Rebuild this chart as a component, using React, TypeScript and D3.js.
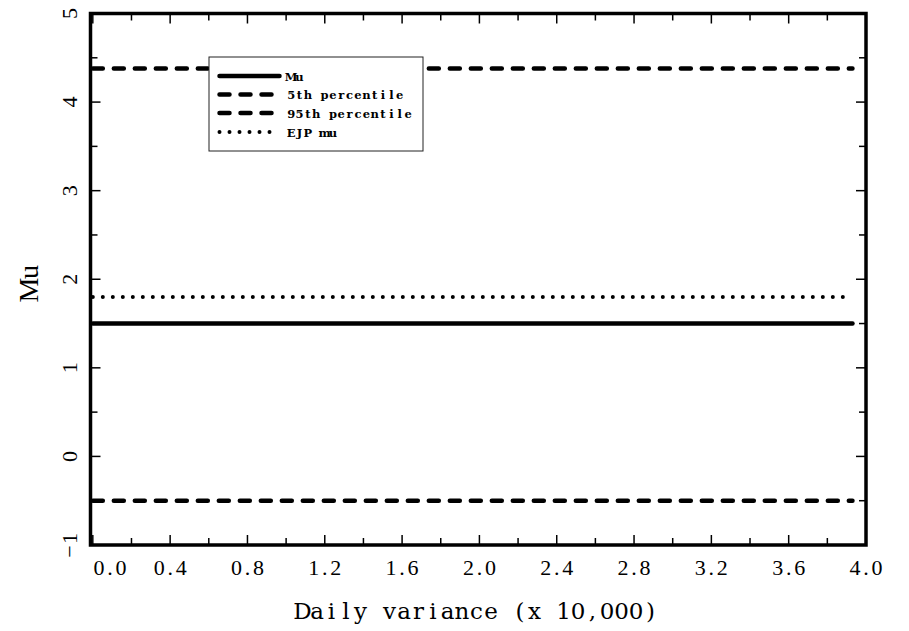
import React from "react";
import * as d3 from "d3";

const variance = [0, 3.93];
const muValues = [1.5, 1.5];
const p5Values = [-0.5, -0.5];
const p95Values = [4.38, 4.38];
const ejpValues = [1.8, 1.8];

const xMajorTicks = [0, 0.4, 0.8, 1.2, 1.6, 2.0, 2.4, 2.8, 3.2, 3.6, 4.0];
const xMinorTicks = [0.2, 0.6, 1.0, 1.4, 1.8, 2.2, 2.6, 3.0, 3.4, 3.8];
const yMajorTicks = [-1, 0, 1, 2, 3, 4, 5];
const yMinorTicks = [-0.5, 0.5, 1.5, 2.5, 3.5, 4.5];
const xTickLabels = ["0.0", "0.4", "0.8", "1.2", "1.6", "2.0", "2.4", "2.8", "3.2", "3.6", "4.0"];
const yTickLabels = ["\u22121", "0", "1", "2", "3", "4", "5"];

const legendLabels = ["Mu", "5th percentile", "95th percentile", "EJP mu"];

const W = 909;
const H = 631;
const L = 90.5, R = 866, T = 13.5, B = 545;
const FONT = "'Liberation Serif', 'DejaVu Serif', serif";
const FONT2 = "'DejaVu Serif', 'Liberation Serif', serif";

// monospaced layout of a serif font: each glyph centred in its own cell
function MonoText(props: {
  str: string;
  cx: number;
  y: number;
  adv: number;
  size: number;
  weight?: string;
  anchor?: "middle" | "start";
  transform?: string;
  family?: string;
}) {
  const { str, cx, y, adv, size, weight, anchor = "middle", transform, family = FONT } = props;
  const n = str.length;
  const start = anchor === "middle" ? cx - (n * adv) / 2 : cx;
  const xs = Array.from(str).map((_, i) => (start + (i + 0.5) * adv).toFixed(2)).join(" ");
  return (
    <text
      x={xs}
      y={y}
      textAnchor="middle"
      fontFamily={family}
      fontSize={size}
      fontWeight={weight}
      transform={transform}
      style={{ whiteSpace: "pre" }}
    >
      {str}
    </text>
  );
}

export default function App() {
  const x = d3.scaleLinear().domain([-0.012, 4]).range([L, R]);
  const y = d3.scaleLinear().domain([-1, 5]).range([B, T]);
  const line = d3
    .line<[number, number]>()
    .x((d) => x(d[0]))
    .y((d) => y(d[1]));
  const pts = (vals: number[]) => variance.map((v, i) => [v, vals[i]] as [number, number]);

  const series = [
    { vals: muValues, dash: undefined as string | undefined, w: 4.5 },
    { vals: p5Values, dash: "10 11", w: 4.5 },
    { vals: p95Values, dash: "10 11", w: 4.5 },
    { vals: ejpValues, dash: "0 10", w: 4 },
  ];

  const legendX0 = 219.5, legendX1 = 279.5;
  const legendRows = [76, 94.5, 113, 132];
  const legendDash = [undefined, "10 11 10 11 10 8 0 30", "10 11 10 11 10 8 0 30", "0 10"];
  const legendW = [4.5, 4.5, 4.5, 4];

  return (
    <svg width={W} height={H} style={{ position: "absolute", left: 0, top: 0, background: "#fff" }}>
      <rect x={0} y={0} width={W} height={H} fill="#fff" />
      {/* data lines */}
      {series.map((s, i) => (
        <path
          key={i}
          d={line(pts(s.vals)) || ""}
          fill="none"
          stroke="#000"
          strokeWidth={s.w}
          strokeDasharray={s.dash}
          strokeLinecap="round"
        />
      ))}
      {/* legend */}
      <rect x={209} y={57} width={214} height={94} fill="#fff" stroke="#222" strokeWidth={1} />
      {legendLabels.map((lab, i) => (
        <g key={lab}>
          <line
            x1={legendX0}
            x2={legendX1}
            y1={legendRows[i]}
            y2={legendRows[i]}
            stroke="#000"
            strokeWidth={legendW[i]}
            strokeDasharray={legendDash[i]}
            strokeLinecap="round"
          />
          <MonoText
            str={lab}
            cx={287}
            y={legendRows[i] + 4.5}
            adv={8.35}
            size={11.5}
            weight="bold"
            anchor="start"
            family={FONT2}
          />
        </g>
      ))}
      {/* ticks */}
      {xMajorTicks.map((t) => (
        <g key={"xM" + t}>
          <line x1={x(t)} x2={x(t)} y1={B} y2={B - 10} stroke="#000" strokeWidth={1.5} />
          <line x1={x(t)} x2={x(t)} y1={T} y2={T + 10} stroke="#000" strokeWidth={1.5} />
        </g>
      ))}
      {xMinorTicks.map((t) => (
        <g key={"xm" + t}>
          <line x1={x(t)} x2={x(t)} y1={B} y2={B - 7} stroke="#000" strokeWidth={1.5} />
          <line x1={x(t)} x2={x(t)} y1={T} y2={T + 7} stroke="#000" strokeWidth={1.5} />
        </g>
      ))}
      {yMajorTicks.map((t) => (
        <g key={"yM" + t}>
          <line x1={L} x2={L + 10} y1={y(t)} y2={y(t)} stroke="#000" strokeWidth={1.5} />
          <line x1={R} x2={R - 10} y1={y(t)} y2={y(t)} stroke="#000" strokeWidth={1.5} />
        </g>
      ))}
      {yMinorTicks.map((t) => (
        <g key={"ym" + t}>
          <line x1={L} x2={L + 7} y1={y(t)} y2={y(t)} stroke="#000" strokeWidth={1.5} />
          <line x1={R} x2={R - 7} y1={y(t)} y2={y(t)} stroke="#000" strokeWidth={1.5} />
        </g>
      ))}
      {/* frame */}
      <rect x={L} y={T} width={R - L} height={B - T} fill="none" stroke="#000" strokeWidth={3.5} />
      {/* x tick labels */}
      {xMajorTicks.map((t, i) => (
        <MonoText
          key={"xl" + t}
          str={xTickLabels[i]}
          cx={Math.max(x(t), L + 19.5)}
          y={575}
          adv={11}
          size={22}
        />
      ))}
      {/* y tick labels */}
      {yMajorTicks.map((t, i) => (
        <MonoText
          key={"yl" + t}
          str={yTickLabels[i]}
          cx={0}
          y={0}
          adv={13}
          size={22}
          transform={`translate(77,${y(t)}) rotate(-90)`}
        />
      ))}
      {/* axis titles */}
      <MonoText str="Daily variance (x 10,000)" cx={476.5} y={619} adv={14.5} size={23} family={FONT2} />
      <MonoText str="Mu" cx={0} y={0} adv={18} size={28} transform="translate(38,281) rotate(-90)" />
    </svg>
  );
}
